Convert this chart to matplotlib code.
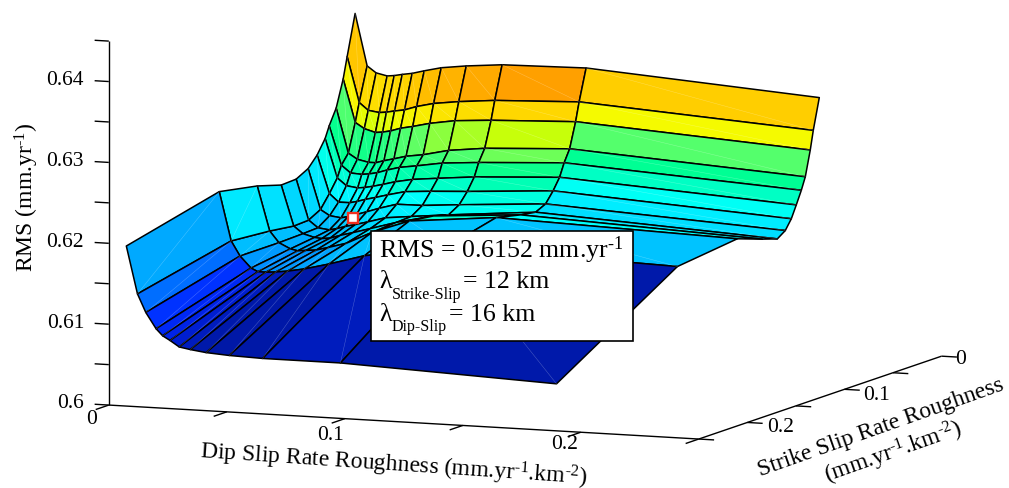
import numpy as np
import matplotlib
matplotlib.use('Agg')
import matplotlib.pyplot as plt
from matplotlib.colors import LinearSegmentedColormap
from matplotlib.patches import Rectangle

plt.rcParams['font.family'] = ['Liberation Serif', 'DejaVu Serif']
plt.rcParams['mathtext.fontset'] = 'custom'
plt.rcParams['mathtext.rm'] = 'Liberation Serif'
plt.rcParams['mathtext.default'] = 'rm'

# ---------------------------------------------------------------
# Data.
# ---------------------------------------------------------------
dip = [0.0015, 0.0066, 0.0104, 0.0151, 0.0181, 0.0215, 0.0257,
       0.0308, 0.0380, 0.0486, 0.0638, 0.0994, 0.1982]
strike_left = [0.0, 0.0082, 0.0123, 0.0195, 0.0267, 0.0309, 0.0391,
               0.0484, 0.0607, 0.0761, 0.1008, 0.1399, 0.2356]
strike_right = [0.0, 0.0062, 0.0093, 0.0144, 0.0185, 0.0237, 0.0288,
                0.0350, 0.0432, 0.0586, 0.0844, 0.1461, 0.2706]

rms = [
    [.6382, .6318, .6310, .6307, .6308, .6310, .6312, .6316, .6321, .6325, .6329, .6331, .6311],
    [.6332, .6276, .6267, .6265, .6266, .6268, .6270, .6275, .6280, .6284, .6288, .6292, .6273],
    [.6306, .6253, .6246, .6242, .6243, .6245, .6249, .6252, .6257, .6262, .6265, .6269, .6250],
    [.6273, .6218, .6211, .6208, .6208, .6211, .6214, .6218, .6221, .6228, .6233, .6238, .6219],
    [.6254, .6206, .6197, .6196, .6197, .6199, .6203, .6207, .6210, .6215, .6218, .6223, .6204],
    [.6240, .6192, .6183, .6181, .6182, .6184, .6187, .6191, .6195, .6198, .6202, .6207, .6188],
    [.6223, .6176, .6166, .6166, .6168, .6171, .6174, .6178, .6183, .6185, .6187, .6193, .6173],
    [.6210, .6160, .6153, .6151, .6153, .6156, .6160, .6165, .6171, .6171, .6174, .6180, .6161],
    [.6202, .6152, .6143, .6141, .6143, .6146, .6149, .6153, .6159, .6162, .6166, .6174, .6154],
    [.6201, .6151, .6142, .6138, .6137, .6138, .6142, .6146, .6152, .6161, .6171, .6177, .6160],
    [.6210, .6155, .6141, .6134, .6132, .6133, .6134, .6138, .6144, .6159, .6175, .6184, .6171],
    [.6219, .6159, .6141, .6127, .6123, .6123, .6124, .6126, .6130, .6138, .6151, .6169, .6162],
    [.6191, .6133, .6111, .6092, .6084, .6079, .6072, .6070, .6068, .6067, .6067, .6070, .6068],
]

best_dip, best_strike, best_rms = 0.0199, 0.047, 0.6152

# colour of a cell against its rms value
color_z = [.6060, .6068, .6070, .6072, .6079, .6084, .6092, .6111, .6133, .6155,
           .6170, .6190, .6205, .6220, .6238, .6250, .6269, .6292, .6340]
color_rgb = [(0, 20, 150), (0, 25, 170), (0, 28, 190), (0, 30, 210), (0, 35, 230),
             (0, 40, 245), (0, 50, 255), (0, 110, 255), (0, 170, 255), (0, 225, 255),
             (0, 255, 255), (0, 255, 190), (0, 255, 145), (90, 255, 105), (200, 255, 10),
             (245, 250, 0), (255, 215, 0), (255, 160, 0), (255, 110, 0)]
front_fold_color = (0 / 255, 195 / 255, 1.0, 1.0)

dip_ticks = [0, 0.05, 0.1, 0.15, 0.2, 0.25]
strike_ticks = [0, 0.05, 0.1, 0.15, 0.2, 0.25]
rms_ticks = [0.6, 0.605, 0.61, 0.615, 0.62, 0.625, 0.63, 0.635, 0.64, 0.645]
rms_labels = [0.6, 0.61, 0.62, 0.63, 0.64]

# ---------------------------------------------------------------
# Figure and view. The zoom keeps the square 3d axes inside the figure.
# ---------------------------------------------------------------
W, H = 1009, 489
fig = plt.figure(figsize=(W / 100, H / 100), dpi=100)
side = 473.15
ax = fig.add_axes([282.2 / W, 46.4 / H, side / W, side / H], projection='3d')
ax.set_proj_type('ortho')
ax.view_init(elev=8.06, azim=-67.67)
ax.set_box_aspect((637.8, 639, 367.6), zoom=2)
ax.set_xlim(0, 0.25, view_margin=0)
ax.set_ylim(0.25, 0, view_margin=0)
ax.set_zlim(0.6, 0.645, view_margin=0)
ax.set_xticks([])
ax.set_yticks([])
ax.set_zticks([])
ax.set_axis_off()
ax.computed_zorder = False
ax.patch.set_alpha(0)

# ---------------------------------------------------------------
# Surface.
# ---------------------------------------------------------------
dip_arr = np.array(dip)
Z = np.array(rms)
u = (dip_arr - dip_arr[0]) / (dip_arr[-1] - dip_arr[0])
X = np.tile(dip_arr, (len(strike_left), 1))
Y = np.outer(strike_left, 1 - u) + np.outer(strike_right, u)

lo, hi = color_z[0], color_z[-1]
stops = [((z - lo) / (hi - lo), tuple(c / 255 for c in rgb)) for z, rgb in zip(color_z, color_rgb)]
cmap = LinearSegmentedColormap.from_list('rms', stops, N=1024)
face = cmap((Z - lo) / (hi - lo))
# the cell takes the colour of its front right corner
face = face[1:, 1:]
face[10, 9:12] = front_fold_color

surf = ax.plot_surface(X, Y, Z, facecolors=face, rstride=1, cstride=1, shade=False,
                       linewidth=1.1, zorder=2)
surf.set_edgecolor('black')
surf.set_clip_on(False)

# faint seams along the cell diagonals, not in the folded rows
for j in range(Z.shape[0] - 1):
    if j in (8, 9):
        continue
    for i in range(Z.shape[1] - 1):
        ax.plot([X[j, i], X[j + 1, i + 1]], [Y[j, i], Y[j + 1, i + 1]], [Z[j, i], Z[j + 1, i + 1]],
                color='white', lw=0.35, alpha=0.3, zorder=3, clip_on=False)

ax.plot([best_dip], [best_strike], [best_rms], 's', ms=7.5, mfc='white', mec='#f03020',
        mew=1.7, zorder=5, clip_on=False)

# ---------------------------------------------------------------
# Axes lines and ticks, drawn by hand to get the picture's box.
# ---------------------------------------------------------------
line = dict(color='black', lw=1.0, zorder=1, solid_capstyle='butt', clip_on=False)
ax.plot([0, 0], [0.25, 0.25], [0.6, 0.645], **line)
ax.plot([0, 0.25], [0.25, 0.25], [0.6, 0.6], **line)
ax.plot([0.25, 0.25], [0.25, 0], [0.6, 0.6], **line)
for t in dip_ticks:
    ax.plot([t, t], [0.25, 0.2635], [0.6, 0.6], **line)
for t in strike_ticks:
    ax.plot([0.25, 0.2565], [t, t], [0.6, 0.6], **line)
for t in rms_ticks:
    ax.plot([-0.006, 0], [0.25, 0.25], [t, t], **line)


def px_text(x, y, s, **kw):
    kw.setdefault('ha', 'center')
    kw.setdefault('va', 'center')
    kw.setdefault('fontsize', 15.5)
    return fig.text(x / W, 1 - y / H, s, **kw)


for t in rms_labels:
    px_text(84, 404 - (t - 0.6) * 8090, f'{t:g}', ha='right')

px_text(92, 420, '0')
px_text(330, 436, '0.1')
px_text(565, 445, '0.2')
px_text(961, 360, '0')
px_text(877, 395, '0.1')
px_text(781, 428, '0.2')

hy = '\u2010'
unit = f'mm.yr$^{{{hy}1}}$'
rate = f'(mm.yr$^{{{hy}1}}$.km$^{{{hy}2}}$)'
label = dict(fontsize=17, rotation_mode='anchor')
px_text(27, 197, f'RMS ({unit})', rotation=90, **label)
px_text(394, 465.5, f'Dip Slip Rate Roughness {rate}', rotation=-3.9, **label)
px_text(881, 428, 'Strike Slip Rate Roughness', rotation=19.5, **label)
px_text(893, 453, rate, rotation=19.5, **label)

# ---------------------------------------------------------------
# Annotation box.
# ---------------------------------------------------------------
fig.add_artist(Rectangle((371 / W, 1 - 342 / H), 262 / W, 110 / H, transform=fig.transFigure,
                         facecolor='white', edgecolor='black', lw=1.2, zorder=6))
box = dict(ha='left', fontsize=18.6, zorder=7)
sub = dict(ha='left', fontsize=11.5, zorder=7)
px_text(379, 250, f'RMS = 0.6152 {unit}', **box)
px_text(379, 282, '\u03bb', **box)
px_text(392, 295, 'Strike-Slip', **sub)
px_text(463, 282, '= 12 km', **box)
px_text(379, 315, '\u03bb', **box)
px_text(392, 327, 'Dip-Slip', **sub)
px_text(449, 315, '= 16 km', **box)

fig.savefig('out.png', dpi=100)
